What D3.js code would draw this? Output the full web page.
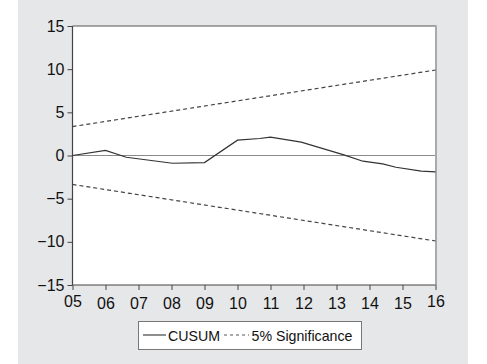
<!DOCTYPE html>
<html>
<head>
<meta charset="utf-8">
<script src="https://cdn.jsdelivr.net/npm/d3@7"></script>
<style>
  body { margin: 0; background: #fff; }
  svg { display: block; font-family: "Liberation Sans", Arial, sans-serif; }
</style>
</head>
<body>
<div id="chart"></div>
<script>
// CUSUM values (fractional year, value)
var cusumYears  = [2005, 2006, 2006.63, 2008.03, 2009, 2010, 2010.67, 2011, 2011.93, 2013.2, 2013.8, 2014.4, 2014.8, 2015.57, 2016];
var cusumValues = [0, 0.6, -0.2, -0.9, -0.82, 1.78, 1.97, 2.13, 1.55, 0.1, -0.66, -0.97, -1.36, -1.82, -1.9];

// 5% significance bands (straight lines)
var bandYears = [2005, 2016];
var upperBand = [3.35, 9.9];
var lowerBand = [-3.35, -9.9];

var xTickYears  = [2005, 2006, 2007, 2008, 2009, 2010, 2011, 2012, 2013, 2014, 2015, 2016];
var xTickLabels = ["05", "06", "07", "08", "09", "10", "11", "12", "13", "14", "15", "16"];
var yTicks = [15, 10, 5, 0, -5, -10, -15];

var W = 487, H = 364;
var svg = d3.select("#chart").append("svg")
    .attr("width", W)
    .attr("height", H);

// grey panel
svg.append("rect")
    .attr("x", 18).attr("y", 0)
    .attr("width", 450).attr("height", H)
    .attr("fill", "#e6e7e9");

var plotLeft = 72.5, plotRight = 435.5, plotTop = 26, plotBottom = 285;

var x = d3.scaleLinear().domain([2005, 2016]).range([plotLeft, plotRight]);
var y = d3.scaleLinear().domain([-15, 15]).range([plotBottom, plotTop]);

svg.append("rect")
    .attr("x", plotLeft).attr("y", plotTop)
    .attr("width", plotRight - plotLeft).attr("height", plotBottom - plotTop)
    .attr("fill", "#fff");

// zero line
svg.append("line")
    .attr("x1", plotLeft).attr("x2", plotRight)
    .attr("y1", y(0)).attr("y2", y(0))
    .attr("stroke", "#8a8a8a")
    .attr("stroke-width", 1);

// frame: top dark, right light
svg.append("line")
    .attr("x1", plotLeft).attr("x2", plotRight + 1)
    .attr("y1", plotTop).attr("y2", plotTop)
    .attr("stroke", "#555").attr("stroke-width", 1);
svg.append("line")
    .attr("x1", plotRight + 0.5).attr("x2", plotRight + 0.5)
    .attr("y1", plotTop).attr("y2", plotBottom)
    .attr("stroke", "#aaa").attr("stroke-width", 2);

// axes
var yAxis = d3.axisLeft(y)
    .tickValues(yTicks)
    .tickSize(5)
    .tickPadding(3)
    .tickFormat(function (d) { return d < 0 ? "\u2212" + Math.abs(d) : d; });

var gy = svg.append("g")
    .attr("transform", "translate(" + plotLeft + ",0)")
    .call(yAxis);

var xAxis = d3.axisBottom(x)
    .tickValues(xTickYears)
    .tickSize(5)
    .tickPadding(8)
    .tickFormat(function (d, i) { return xTickLabels[i]; });

var gx = svg.append("g")
    .attr("transform", "translate(0," + plotBottom + ")")
    .call(xAxis);

[gx, gy].forEach(function (g) {
    g.attr("font-size", 16).attr("font-family", "Liberation Sans, Arial, sans-serif");
    g.select(".domain").attr("stroke", "#444").attr("stroke-width", 1.2);
    g.selectAll(".tick line").attr("stroke", "#444");
    g.selectAll(".tick text").attr("fill", "#111");
});
gy.select(".domain").attr("d", "M0," + plotTop + "V" + plotBottom);
gx.select(".domain").attr("d", "M" + plotLeft + ",0H" + plotRight);

// first and last x labels sit a bit higher
gx.selectAll(".tick text")
    .attr("dy", function (d, i) {
        return (i === 0 || i === xTickYears.length - 1) ? "0.55em" : "0.71em";
    });

// bands
var lineGen = d3.line()
    .x(function (d) { return x(d[0]); })
    .y(function (d) { return y(d[1]); });

[upperBand, lowerBand].forEach(function (band) {
    svg.append("path")
        .datum(bandYears.map(function (yr, i) { return [yr, band[i]]; }))
        .attr("d", lineGen)
        .attr("fill", "none")
        .attr("stroke", "#444")
        .attr("stroke-width", 1.2)
        .attr("stroke-dasharray", "4,3");
});

// cusum line
svg.append("path")
    .datum(cusumYears.map(function (yr, i) { return [yr, cusumValues[i]]; }))
    .attr("d", lineGen)
    .attr("fill", "none")
    .attr("stroke", "#333")
    .attr("stroke-width", 1.2);

// legend
var legend = svg.append("g");
legend.append("rect")
    .attr("x", 138.5).attr("y", 321.5)
    .attr("width", 223).attr("height", 28)
    .attr("fill", "#fff")
    .attr("stroke", "#777");

legend.append("line")
    .attr("x1", 143).attr("x2", 166)
    .attr("y1", 335).attr("y2", 335)
    .attr("stroke", "#444").attr("stroke-width", 1.2);
legend.append("text")
    .attr("x", 168).attr("y", 340.5)
    .attr("font-size", 14.2)
    .attr("fill", "#111")
    .text("CUSUM");

legend.append("line")
    .attr("x1", 224).attr("x2", 249)
    .attr("y1", 335).attr("y2", 335)
    .attr("stroke", "#555").attr("stroke-width", 1)
    .attr("stroke-dasharray", "3,3");
legend.append("text")
    .attr("x", 251.5).attr("y", 340.5)
    .attr("font-size", 14.2)
    .attr("fill", "#111")
    .text("5% Significance");
</script>
</body>
</html>
